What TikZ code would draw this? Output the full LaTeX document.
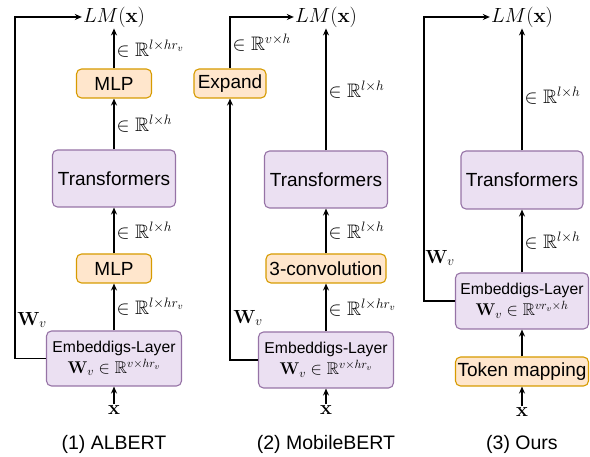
\RequirePackage{fix-cm}
\documentclass[tikz,border=0pt]{standalone}
\usepackage{amsmath,amssymb}
\usepackage[no-math]{fontspec}
\setmainfont{Liberation Sans}
\usetikzlibrary{arrows.meta}
\definecolor{pfill}{HTML}{EBE0F2}
\definecolor{pstroke}{HTML}{9673A6}
\definecolor{ofill}{HTML}{FFE6CC}
\definecolor{ostroke}{HTML}{D79B00}
\tikzset{
  basebox/.style={rounded corners=5pt, line width=1.1pt, inner sep=0pt, align=center,
    font=\fontsize{19}{22}\selectfont},
  pbox/.style={basebox, draw=pstroke, fill=pfill},
  obox/.style={basebox, draw=ostroke, fill=ofill},
  embfont/.style={font=\fontsize{15.7}{18}\selectfont},
  conn/.style={line width=1.2pt, -{Stealth[length=7pt,width=6pt]}},
  lab/.style={anchor=west, inner sep=0pt, xshift=2pt, font=\fontsize{19.5}{22}\selectfont},
  lmnode/.style={inner sep=1pt, font=\fontsize{20.5}{24}\selectfont},
  xnode/.style={inner sep=1pt, font=\fontsize{20}{22}\selectfont},
  capt/.style={inner sep=0pt, font=\fontsize{19.5}{22}\selectfont},
  wlab/.style={inner sep=0pt, font=\fontsize{19}{22}\selectfont}
}
\newcommand{\embm}[1]{{\fontsize{17}{20}\selectfont$#1$}}
\begin{document}
\begin{tikzpicture}[x=1pt,y=-1pt]
\useasboundingbox (0,0) rectangle (590,457);
% ---------- Panel 1: ALBERT ----------
\node[lmnode] (lm1) at (114,17) {$LM(\mathbf{x})$};
\node[obox, minimum width=75, minimum height=29] (mlpB) at (114,83.5) {MLP};
\node[pbox, minimum width=123, minimum height=57] (tr1) at (114,178.5) {Transformers};
\node[obox, minimum width=75, minimum height=29] (mlpA) at (114,268.5) {MLP};
\node[pbox, embfont, minimum width=135, minimum height=55] (emb1) at (114,358.5)
  {Embeddigs-Layer\\[3pt]\embm{\mathbf{W}_v\in\mathbb{R}^{v\times hr_v}}};
\node[xnode] (x1) at (114,410) {$\mathbf{x}$};
\node[capt] (cap1) at (114,444) {(1) ALBERT};
\node[wlab] (w1) at (32,320) {$\mathbf{W}_v$};
\coordinate (k1) at (15,17);
\draw[conn] (x1.north) -- (emb1.south);
\draw[conn] (emb1.north) -- node[lab] (l1d) {$\in\mathbb{R}^{l\times hr_v}$} (mlpA.south);
\draw[conn] (mlpA.north) -- node[lab] (l1c) {$\in\mathbb{R}^{l\times h}$} (tr1.south);
\draw[conn] (tr1.north) -- node[lab] (l1b) {$\in\mathbb{R}^{l\times h}$} (mlpB.south);
\draw[conn] (mlpB.north) -- node[lab] (l1a) {$\in\mathbb{R}^{l\times hr_v}$} (lm1.south);
\draw[conn] (emb1.west) -| (k1) -- (lm1.west);
% ---------- Panel 2: MobileBERT ----------
\node[lmnode] (lm2) at (326,17) {$LM(\mathbf{x})$};
\node[obox, minimum width=72, minimum height=29] (exp) at (230,83.5) {Expand};
\node[pbox, minimum width=123, minimum height=57] (tr2) at (326,179.5) {Transformers};
\node[obox, minimum width=120, minimum height=29] (conv) at (326,268.5) {3-convolution};
\node[pbox, embfont, minimum width=135, minimum height=56] (emb2) at (326,360)
  {Embeddigs-Layer\\[3pt]\embm{\mathbf{W}_v\in\mathbb{R}^{v\times hr_v}}};
\node[xnode] (x2) at (326,410) {$\mathbf{x}$};
\node[capt] (cap2) at (326,444) {(2) MobileBERT};
\node[wlab] (w2) at (248,318) {$\mathbf{W}_v$};
\draw[conn] (x2.north) -- (emb2.south);
\draw[conn] (emb2.north) -- node[lab] (l2d) {$\in\mathbb{R}^{l\times hr_v}$} (conv.south);
\draw[conn] (conv.north) -- node[lab] (l2c) {$\in\mathbb{R}^{l\times h}$} (tr2.south);
\draw[conn] (tr2.north) -- node[lab] (l2b) {$\in\mathbb{R}^{l\times h}$} (lm2.south);
\draw[conn] (emb2.west) -| (exp.south);
\draw[conn] (exp.north) |- node[lab, pos=0.25] (l2a) {$\in\mathbb{R}^{v\times h}$} (lm2.west);
% ---------- Panel 3: Ours ----------
\node[lmnode] (lm3) at (522,17) {$LM(\mathbf{x})$};
\node[pbox, minimum width=122, minimum height=58] (tr3) at (522,180) {Transformers};
\node[pbox, embfont, minimum width=133, minimum height=56] (emb3) at (522,301)
  {Embeddigs-Layer\\[3pt]\embm{\mathbf{W}_v\in\mathbb{R}^{vr_v\times h}}};
\node[obox, minimum width=133, minimum height=29] (tok) at (522,371.5) {Token mapping};
\node[xnode] (x3) at (522,412) {$\mathbf{x}$};
\node[capt] (cap3) at (522,444) {(3) Ours};
\node[wlab] (w3) at (440,258) {$\mathbf{W}_v$};
\coordinate (k3) at (424,17);
\draw[conn] (x3.north) -- (tok.south);
\draw[conn] (tok.north) -- (emb3.south);
\draw[conn] (emb3.north) -- node[lab] (l3b) {$\in\mathbb{R}^{l\times h}$} (tr3.south);
\draw[conn] (tr3.north) -- node[lab, pos=0.45] (l3a) {$\in\mathbb{R}^{l\times h}$} (lm3.south);
\draw[conn] (emb3.west) -| (k3) -- (lm3.west);
\end{tikzpicture}
\end{document}
